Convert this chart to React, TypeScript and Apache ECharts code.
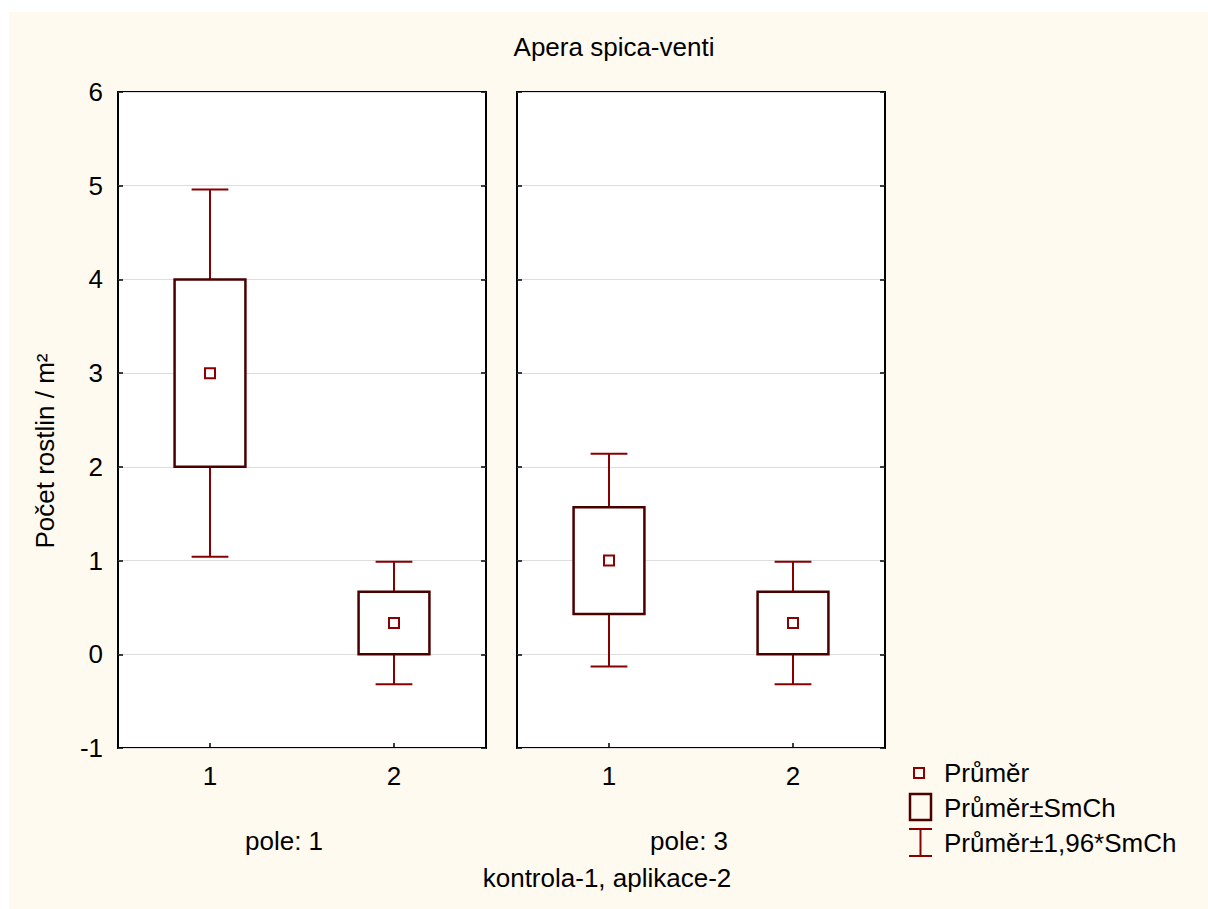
import React, { useEffect, useRef } from "react";
import * as echarts from "echarts";

const categories = ["1", "2"];
const panelLabels = ["pole: 1", "pole: 3"];
const yTicks = [-1, 0, 1, 2, 3, 4, 5, 6];

// panel "pole: 1"
const pole1Mean = [3.0, 0.333];
const pole1SeLow = [2.0, 0.0];
const pole1SeHigh = [4.0, 0.667];
const pole1CiLow = [1.04, -0.32];
const pole1CiHigh = [4.96, 0.987];

// panel "pole: 3"
const pole3Mean = [1.0, 0.333];
const pole3SeLow = [0.43, 0.0];
const pole3SeHigh = [1.57, 0.667];
const pole3CiLow = [-0.13, -0.32];
const pole3CiHigh = [2.14, 0.987];

const legendLabels = ["Průměr", "Průměr±SmCh", "Průměr±1,96*SmCh"];
const titleText = "Apera spica-venti";
const yAxisTitle = "Počet rostlin / m²";
const xAxisTitle = "kontrola-1, aplikace-2";

const FONT = "'Liberation Sans', Arial, sans-serif";
const FS = 26;
const BOX_COLOR = "#4B0000";
const WHISKER_COLOR = "#880000";
const MEAN_COLOR = "#8B0000";

function buildData(mean: number[], sl: number[], sh: number[], cl: number[], ch: number[]) {
  return categories.map((_, i) => [i, mean[i], sl[i], sh[i], cl[i], ch[i]]);
}

const renderItem = (params: any, api: any) => {
  const idx = api.value(0);
  const pMean = api.coord([idx, api.value(1)]);
  const pSeLo = api.coord([idx, api.value(2)]);
  const pSeHi = api.coord([idx, api.value(3)]);
  const pCiLo = api.coord([idx, api.value(4)]);
  const pCiHi = api.coord([idx, api.value(5)]);
  const band = api.size([1, 0])[0];
  const bw = band * 0.385;
  const cw = band * 0.2;
  const cx = pMean[0];
  const wStyle = { stroke: WHISKER_COLOR, lineWidth: 2 };
  return {
    type: "group",
    children: [
      { type: "line", shape: { x1: cx, y1: pCiLo[1], x2: cx, y2: pCiHi[1] }, style: wStyle },
      { type: "line", shape: { x1: cx - cw / 2, y1: pCiLo[1], x2: cx + cw / 2, y2: pCiLo[1] }, style: wStyle },
      { type: "line", shape: { x1: cx - cw / 2, y1: pCiHi[1], x2: cx + cw / 2, y2: pCiHi[1] }, style: wStyle },
      {
        type: "rect",
        shape: { x: cx - bw / 2, y: pSeHi[1], width: bw, height: pSeLo[1] - pSeHi[1] },
        style: { fill: "#fff", stroke: BOX_COLOR, lineWidth: 2.5 },
      },
      {
        type: "rect",
        shape: { x: cx - 5, y: pMean[1] - 5, width: 10, height: 10 },
        style: { fill: "#fff", stroke: MEAN_COLOR, lineWidth: 2 },
      },
    ],
  };
};

export default function App() {
  const ref = useRef<HTMLDivElement>(null);
  useEffect(() => {
    if (!ref.current) return;
    const chart = echarts.init(ref.current, undefined, { renderer: "svg" });
    const gridLefts = [118, 517];
    const grids = gridLefts.map((l) => ({
      left: l,
      top: 92,
      width: 368,
      height: 656,
      show: true,
      backgroundColor: "#fff",
      borderColor: "#000",
      borderWidth: 2,
      containLabel: false,
    }));
    const xAxes = [0, 1].map((i) => ({
      type: "category",
      gridIndex: i,
      data: categories,
      position: "bottom",
      boundaryGap: true,
      axisLine: { show: false, onZero: false },
      axisTick: { show: true, inside: true, alignWithLabel: true, length: 5, lineStyle: { color: "#000", width: 1.5 } },
      axisLabel: { margin: 15, fontSize: FS, color: "#000", fontFamily: FONT },
      splitLine: { show: false },
    }));
    const yAxes: any[] = [];
    [0, 1].forEach((i) => {
      yAxes.push({
        type: "value",
        gridIndex: i,
        position: "left",
        min: yTicks[0],
        max: yTicks[yTicks.length - 1],
        interval: 1,
        axisLine: { show: false, onZero: false },
        axisTick: { show: true, inside: true, length: 5, lineStyle: { color: "#000", width: 1.5 } },
        axisLabel: { show: i === 0, margin: 15, fontSize: FS, color: "#000", fontFamily: FONT },
        splitLine: { show: true, lineStyle: { color: "#DDDDDD", width: 1 } },
      });
      yAxes.push({
        type: "value",
        gridIndex: i,
        position: "right",
        min: yTicks[0],
        max: yTicks[yTicks.length - 1],
        interval: 1,
        axisLine: { show: false, onZero: false },
        axisTick: { show: true, inside: true, length: 5, lineStyle: { color: "#000", width: 1.5 } },
        axisLabel: { show: false },
        splitLine: { show: false },
      });
    });
    const series = [
      buildData(pole1Mean, pole1SeLow, pole1SeHigh, pole1CiLow, pole1CiHigh),
      buildData(pole3Mean, pole3SeLow, pole3SeHigh, pole3CiLow, pole3CiHigh),
    ].map((data, i) => ({
      type: "custom",
      name: panelLabels[i],
      xAxisIndex: i,
      yAxisIndex: i * 2,
      data,
      encode: { x: 0, y: [1, 2, 3, 4, 5] },
      renderItem,
      clip: false,
    }));

    const textStyle = (text: string, size = FS) => ({
      text,
      fill: "#000",
      fontSize: size,
      fontFamily: FONT,
    });

    const graphic: any[] = [
      { type: "text", x: 614, y: 47, style: { ...textStyle(titleText), align: "center", verticalAlign: "middle" } },
      {
        type: "text",
        x: 45,
        y: 451,
        rotation: Math.PI / 2,
        style: { ...textStyle(yAxisTitle), align: "center", verticalAlign: "middle" },
      },
      { type: "text", x: 284, y: 841, style: { ...textStyle(panelLabels[0]), align: "center", verticalAlign: "middle" } },
      { type: "text", x: 689, y: 841, style: { ...textStyle(panelLabels[1]), align: "center", verticalAlign: "middle" } },
      { type: "text", x: 607, y: 878, style: { ...textStyle(xAxisTitle), align: "center", verticalAlign: "middle" } },
      // legend
      { type: "rect", shape: { x: 914, y: 768, width: 10, height: 10 }, style: { fill: "none", stroke: MEAN_COLOR, lineWidth: 2 } },
      { type: "rect", shape: { x: 910, y: 794, width: 21, height: 26 }, style: { fill: "none", stroke: BOX_COLOR, lineWidth: 2.5 } },
      { type: "line", shape: { x1: 920.5, y1: 829, x2: 920.5, y2: 856 }, style: { stroke: WHISKER_COLOR, lineWidth: 2 } },
      { type: "line", shape: { x1: 909, y1: 829, x2: 932, y2: 829 }, style: { stroke: WHISKER_COLOR, lineWidth: 2 } },
      { type: "line", shape: { x1: 909, y1: 856, x2: 932, y2: 856 }, style: { stroke: WHISKER_COLOR, lineWidth: 2 } },
      { type: "text", x: 944, y: 773, style: { ...textStyle(legendLabels[0]), verticalAlign: "middle" } },
      { type: "text", x: 944, y: 808, style: { ...textStyle(legendLabels[1]), verticalAlign: "middle" } },
      { type: "text", x: 944, y: 843, style: { ...textStyle(legendLabels[2]), verticalAlign: "middle" } },
    ];

    chart.setOption({
      animation: false,
      backgroundColor: "transparent",
      grid: grids,
      xAxis: xAxes,
      yAxis: yAxes,
      series,
      graphic,
    } as any);
    return () => chart.dispose();
  }, []);

  return (
    <div style={{ position: "absolute", left: 0, top: 0, width: 1208, height: 909, background: "#fff" }}>
      <div style={{ position: "absolute", left: 9, top: 12, right: 0, bottom: 0, background: "#FFFAEF" }} />
      <div ref={ref} style={{ position: "absolute", left: 0, top: 0, width: 1208, height: 909 }} />
    </div>
  );
}
